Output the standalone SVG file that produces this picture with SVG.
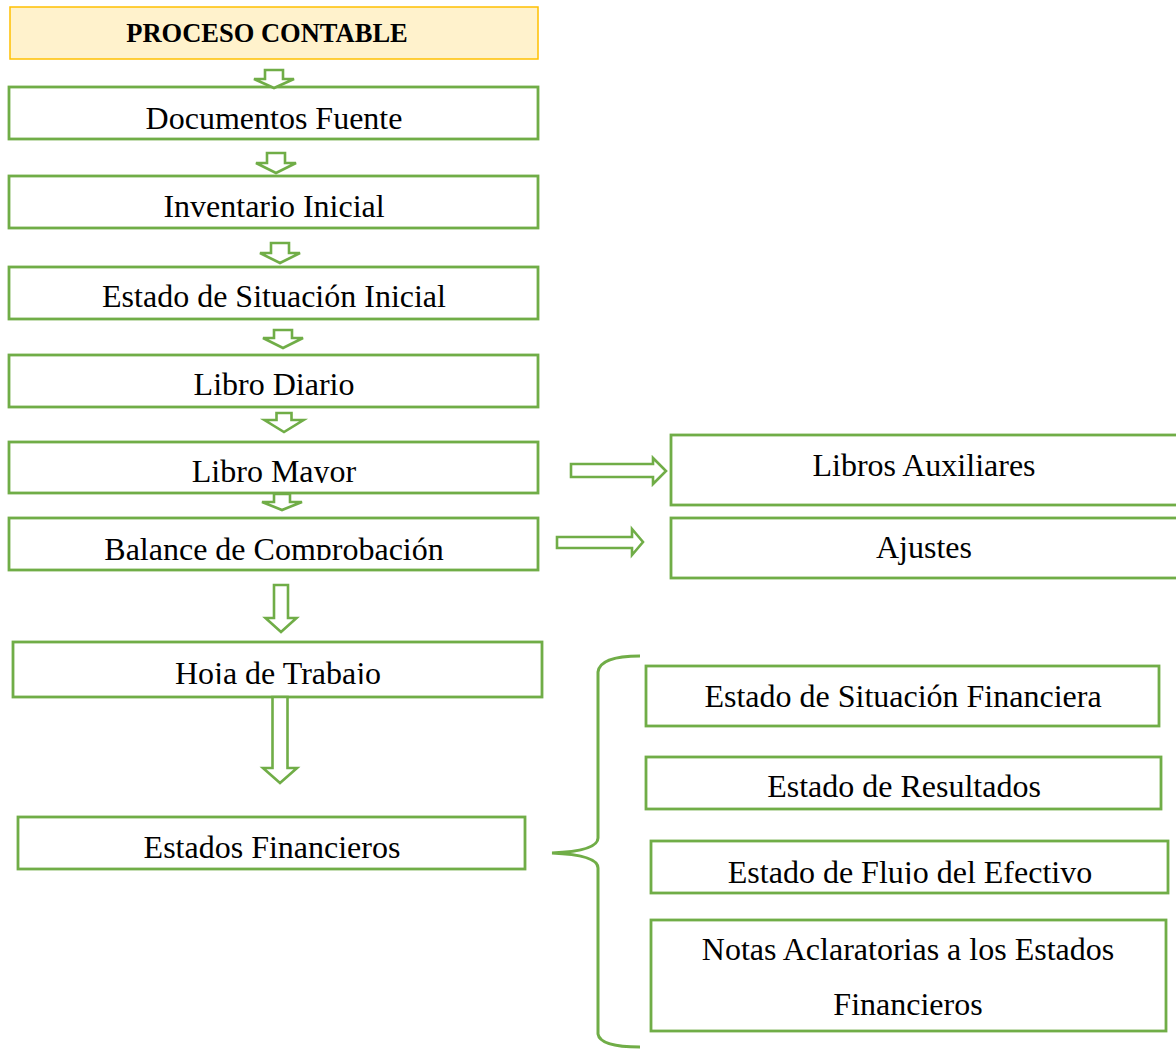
<svg xmlns="http://www.w3.org/2000/svg" width="1176" height="1050" viewBox="0 0 1176 1050">
<defs>
<style>
.box{fill:#fff;stroke:#70AD47;stroke-width:2.8}
.arr{fill:#fff;stroke:#70AD47;stroke-width:2.6;stroke-linejoin:miter}
.t{font-family:"Liberation Serif","Times New Roman",serif;font-size:32px;fill:#000;text-anchor:middle}
.h{font-family:"Liberation Serif","Times New Roman",serif;font-size:26.5px;font-weight:bold;fill:#000;text-anchor:middle}
</style>
<clipPath id="cLM"><rect x="9" y="442" width="529" height="41"/></clipPath>
<clipPath id="cBC"><rect x="9" y="518" width="529" height="42"/></clipPath>
<clipPath id="cHT"><rect x="13" y="642" width="529" height="42"/></clipPath>
<clipPath id="cEFE"><rect x="651" y="841" width="517" height="43"/></clipPath>
</defs>
<rect width="1176" height="1050" fill="#fff"/>
<g id="header">
<rect x="10" y="7" width="528" height="52" fill="#FFF2CC" stroke="#FFC000" stroke-width="1.5"/>
<text class="h" x="267" y="42">PROCESO CONTABLE</text>
</g>
<g id="n-documentos"><rect class="box" x="9" y="87" width="529" height="52"/><text class="t" x="274" y="129">Documentos Fuente</text></g>
<g id="n-inventario"><rect class="box" x="9" y="176" width="529" height="52"/><text class="t" x="274" y="217">Inventario Inicial</text></g>
<g id="n-esi"><rect class="box" x="9" y="267" width="529" height="52"/><text class="t" x="274" y="307">Estado de Situación Inicial</text></g>
<g id="n-diario"><rect class="box" x="9" y="355" width="529" height="52"/><text class="t" x="274" y="395">Libro Diario</text></g>
<g id="n-mayor"><rect class="box" x="9" y="442" width="529" height="51"/><text class="t" x="274" y="482" clip-path="url(#cLM)">Libro Mayor</text></g>
<g id="n-balance"><rect class="box" x="9" y="518" width="529" height="52"/><text class="t" x="274" y="560" clip-path="url(#cBC)">Balance de Comprobación</text></g>
<g id="n-hoja"><rect class="box" x="13" y="642" width="529" height="55"/><text class="t" x="278" y="684" clip-path="url(#cHT)">Hoja de Trabajo</text></g>
<g id="n-ef"><rect class="box" x="18" y="817" width="507" height="52"/><text class="t" x="272" y="858">Estados Financieros</text></g>
<g id="n-aux"><rect class="box" x="671" y="435" width="510" height="70"/><text class="t" x="924" y="476">Libros Auxiliares</text></g>
<g id="n-ajustes"><rect class="box" x="671" y="518" width="510" height="60"/><text class="t" x="924" y="558">Ajustes</text></g>
<g id="n-esf"><rect class="box" x="646" y="666" width="513" height="60"/><text class="t" x="903" y="707">Estado de Situación Financiera</text></g>
<g id="n-er"><rect class="box" x="646" y="757" width="515" height="52"/><text class="t" x="904" y="797">Estado de Resultados</text></g>
<g id="n-efe"><rect class="box" x="651" y="841" width="517" height="52"/><text class="t" x="910" y="883" clip-path="url(#cEFE)">Estado de Flujo del Efectivo</text></g>
<g id="n-notas"><rect class="box" x="651" y="920" width="515" height="111"/><text class="t" x="908" y="960">Notas Aclaratorias a los Estados</text><text class="t" x="908" y="1015">Financieros</text></g>
<g id="connectors">
<polygon class="arr" points="265,70 283,70 283,79 294,79 274,88 254,79 265,79"/>
<polygon class="arr" points="267,153 285,153 285,163 296,163 276,173 256,163 267,163"/>
<polygon class="arr" points="271,243 289,243 289,253 300,253 280,263 260,253 271,253"/>
<polygon class="arr" points="274,330 292,330 292,338 303,338 283,348 263,338 274,338"/>
<polygon class="arr" points="276.5,413 291.5,413 291.5,420 303.5,420 284,432 264.5,420 276.5,420"/>
<polygon class="arr" points="274,494 290,494 290,502 302,502 282,510 262,502 274,502"/>
<polygon class="arr" points="274,585 288,585 288,618 296.5,618 281,632 265.5,618 274,618"/>
<polygon class="arr" points="272.5,697 287.5,697 287.5,768 297,768 280,783 263,768 272.5,768"/>
<polygon class="arr" points="571,464 653,464 653,458 666,471 653,484 653,477 571,477"/>
<polygon class="arr" points="557,537 632,537 632,529 643,542 632,555 632,548 557,548"/>
<path d="M640,656 Q600,656 598,672 L598,838 Q598,851 552,853 Q598,855 598,868 L598,1034 Q600,1047 640,1047" fill="none" stroke="#70AD47" stroke-width="3"/>
</g>
</svg>
